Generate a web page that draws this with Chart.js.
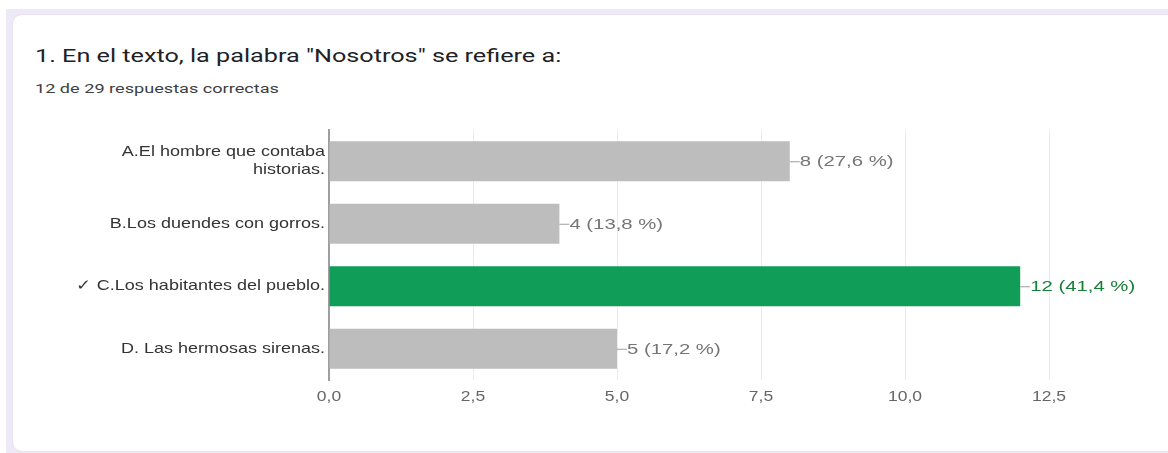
<!DOCTYPE html>
<html>
<head>
<meta charset="utf-8">
<script src="https://cdn.jsdelivr.net/npm/chart.js@4.4.0/dist/chart.umd.min.js"></script>
<style>
  html, body { margin: 0; padding: 0; background: #fff; width: 1168px; height: 453px; overflow: hidden; }
  .frame { position: absolute; left: 6px; top: 9px; width: 1200px; height: 460px; background: #ede9f6; }
  .card { position: absolute; left: 13px; top: 15px; width: 1200px; height: 436px; background: #fff;
          border-radius: 8px; box-shadow: 0 0 1px rgba(0,0,0,0.25); }
  .title { position: absolute; left: 35px; top: 45px; font-family: Roboto, "Open Sans", sans-serif;
           font-size: 18px; color: #202124; white-space: nowrap;
           transform: scaleX(1.4); transform-origin: left top; }
  .sub { position: absolute; left: 35px; top: 81px; font-family: Roboto, sans-serif;
         font-size: 12.5px; color: #3c4043; white-space: nowrap;
         transform: scaleX(1.45); transform-origin: left top; }
  #wrap { position: absolute; left: 0; top: 112px; width: 1168px; height: 310px; }
</style>
</head>
<body>
<div class="frame"></div>
<div class="card"></div>
<div class="title">1. En el texto, la palabra "Nosotros" se refiere a:</div>
<div class="sub">12 de 29 respuestas correctas</div>
<div id="wrap"><canvas id="chart"></canvas></div>
<script>
// answer options (the correct one is index 2)
const options = [
  ["A.El hombre que contaba", "historias."],
  "B.Los duendes con gorros.",
  "\u2713 C.Los habitantes del pueblo.",
  "D. Las hermosas sirenas."
];
const counts = [8, 4, 12, 5];
const percents = ["27,6", "13,8", "41,4", "17,2"];
const correctIndex = 2;
const xTicks = [0, 2.5, 5, 7.5, 10, 12.5];

const barColors = counts.map((v, i) => i === correctIndex ? "#0f9d58" : "#bdbdbd");
const FONT = "'Liberation Sans', Arial, sans-serif";

// the screenshot text is a bit wide, so text is drawn here with a horizontal stretch
function wideText(ctx, text, x, y, stretch) {
  ctx.save();
  ctx.translate(x, y);
  ctx.scale(stretch, 1);
  ctx.fillText(text, 0, 0);
  ctx.restore();
}

const customText = {
  id: "customText",
  afterDatasetsDraw(chart) {
    const ctx = chart.ctx;
    const meta = chart.getDatasetMeta(0);
    const xs = chart.scales.x, ys = chart.scales.y;
    ctx.save();

    // "—8 (27,6 %)" labels next to the bars
    ctx.font = "14px " + FONT;
    ctx.textBaseline = "middle";
    ctx.textAlign = "left";
    meta.data.forEach((bar, i) => {
      ctx.strokeStyle = "#9e9e9e";
      ctx.lineWidth = 1;
      ctx.beginPath();
      ctx.moveTo(bar.x, bar.y + 0.5);
      ctx.lineTo(bar.x + 10, bar.y + 0.5);
      ctx.stroke();
      ctx.fillStyle = i === correctIndex ? "#188038" : "#757575";
      wideText(ctx, counts[i] + " (" + percents[i] + " %)", bar.x + 10, bar.y + 1, 1.45);
    });

    // x axis tick labels
    ctx.font = "14px " + FONT;
    ctx.fillStyle = "#666";
    ctx.textAlign = "center";
    ctx.textBaseline = "middle";
    xs.ticks.forEach((t, i) => {
      const label = Number(t.value).toFixed(1).replace(".", ",");
      wideText(ctx, label, xs.getPixelForTick(i), xs.top + 17, 1.25);
    });

    // category labels
    ctx.font = "15px " + FONT;
    ctx.fillStyle = "#333";
    ctx.textAlign = "right";
    chart.data.labels.forEach((lab, i) => {
      const lines = Array.isArray(lab) ? lab : [lab];
      const y0 = ys.getPixelForTick(i) - (lines.length - 1) * 9;
      lines.forEach((ln, k) => {
        wideText(ctx, ln, ys.right - 4, y0 + k * 18, 1.2);
      });
    });
    ctx.restore();
  }
};

new Chart(document.getElementById("chart"), {
  type: "bar",
  data: {
    labels: options,
    datasets: [{
      data: counts,
      backgroundColor: barColors,
      borderWidth: 0,
      barPercentage: 0.64,
      categoryPercentage: 1
    }]
  },
  options: {
    indexAxis: "y",
    responsive: true,
    maintainAspectRatio: false,
    animation: false,
    layout: { padding: { top: 18, right: 119, bottom: 0, left: 0 } },
    plugins: { legend: { display: false }, tooltip: { enabled: false } },
    scales: {
      x: {
        min: 0,
        max: 12.5,
        afterBuildTicks: (scale) => { scale.ticks = xTicks.map(v => ({ value: v })); },
        afterFit: (scale) => { scale.height = 42; },
        grid: { color: "#ebebeb", drawTicks: false },
        border: { display: false },
        ticks: { display: false }
      },
      y: {
        afterFit: (scale) => { scale.width = 329; },
        grid: { display: false, drawTicks: false },
        border: { display: true, color: "#9e9e9e", width: 2 },
        ticks: { display: false }
      }
    }
  },
  plugins: [customText]
});
</script>
</body>
</html>
